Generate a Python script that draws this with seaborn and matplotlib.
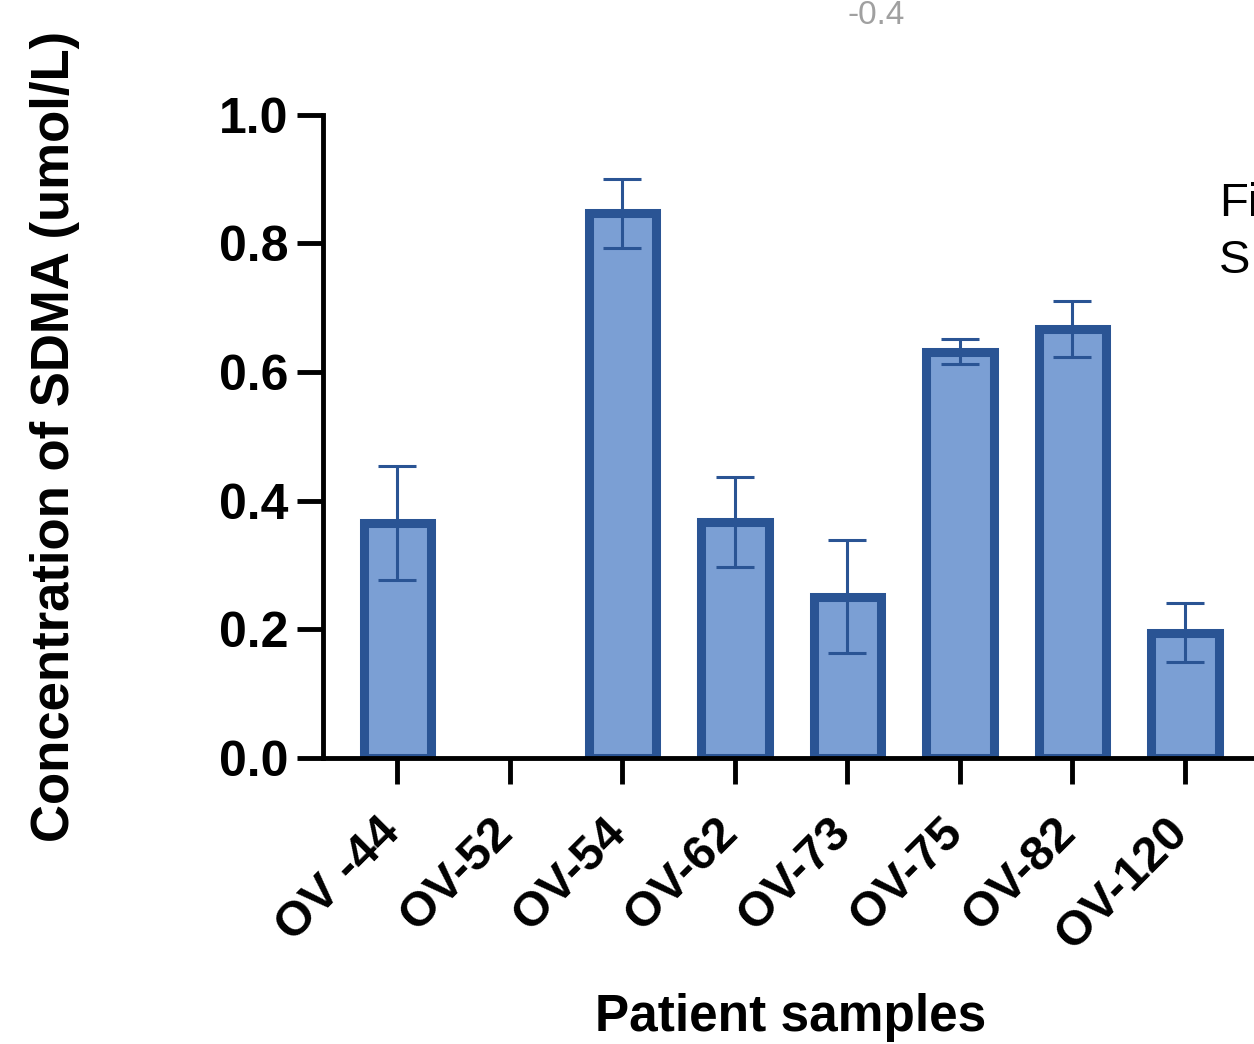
import numpy as np
import pandas as pd
import matplotlib
matplotlib.use('Agg')
import matplotlib.pyplot as plt
import matplotlib.transforms as mtransforms
import seaborn as sns

samples = ['OV -44', 'OV-52', 'OV-54', 'OV-62', 'OV-73', 'OV-75', 'OV-82', 'OV-120']
sdma_mean = [0.365, np.nan, 0.847, 0.367, 0.251, 0.632, 0.667, 0.195]
sdma_err = [0.089, np.nan, 0.054, 0.070, 0.088, 0.020, 0.043, 0.046]

data = pd.DataFrame({'sample': samples, 'sdma': sdma_mean})

sns.set_style('white')
plt.rcParams['font.family'] = ['Liberation Sans', 'DejaVu Sans']
plt.rcParams['text.color'] = 'black'
plt.rcParams['axes.labelcolor'] = 'black'
plt.rcParams['xtick.color'] = 'black'
plt.rcParams['ytick.color'] = 'black'

fill_col = '#7b9fd4'
edge_col = '#2a5494'

fig = plt.figure(figsize=(12.54, 10.44), dpi=100)
ax = fig.add_axes([0.2576, 0.274, 0.75, 0.616])

sns.barplot(data=data, x='sample', y='sdma', order=samples, color=fill_col, width=0.6,
            edgecolor=edge_col, linewidth=6.5, saturation=1, errorbar=None, ax=ax)
ax.errorbar(np.arange(len(samples)), sdma_mean, yerr=sdma_err, fmt='none',
            ecolor=edge_col, elinewidth=2.2, capsize=14, capthick=2.2, zorder=5)

ax.set_ylim(0, 1.0)
ax.set_xlim(-0.66, 7.7)
ax.set_yticks([0.0, 0.2, 0.4, 0.6, 0.8, 1.0])
ax.set_yticklabels(['0.0', '0.2', '0.4', '0.6', '0.8', '1.0'], fontsize=36, fontweight='bold')
ax.set_xticks(np.arange(len(samples)))
ax.set_xticklabels(samples, rotation=45, ha='right', rotation_mode='anchor',
                   fontsize=35, fontweight='bold')
ax.tick_params(axis='both', direction='out', length=19, width=3.5, color='black',
               left=True, bottom=True, pad=6)
ax.tick_params(axis='x', pad=14)

# nudge rotated labels so their ends sit under the ticks
shift = mtransforms.ScaledTranslation(-0.2, -0.06, fig.dpi_scale_trans)
for lbl in ax.get_xticklabels():
    lbl.set_transform(lbl.get_transform() + shift)

for side in ['top', 'right']:
    ax.spines[side].set_visible(False)
for side in ['left', 'bottom']:
    ax.spines[side].set_linewidth(3.5)
    ax.spines[side].set_color('black')

ax.set_xlabel('Patient samples', fontsize=37, fontweight='bold', va='top')
ax.xaxis.set_label_coords(0.497, -0.365)
ax.set_ylabel('Concentration of SDMA (umol/L)', fontsize=38, fontweight='bold', va='center')
ax.yaxis.set_label_coords(-0.285, 0.5)

# stray bits of the neighbouring panel in the screenshot
fig.text(0.676, 0.985, '-0.4', fontsize=24, color='#a0a0a0', va='center', ha='left')
fig.text(0.972, 0.805, 'Fi', fontsize=34, color='black', va='center', ha='left')
fig.text(0.972, 0.75, 'S', fontsize=34, color='black', va='center', ha='left')

fig.savefig('out.png', dpi=100)
